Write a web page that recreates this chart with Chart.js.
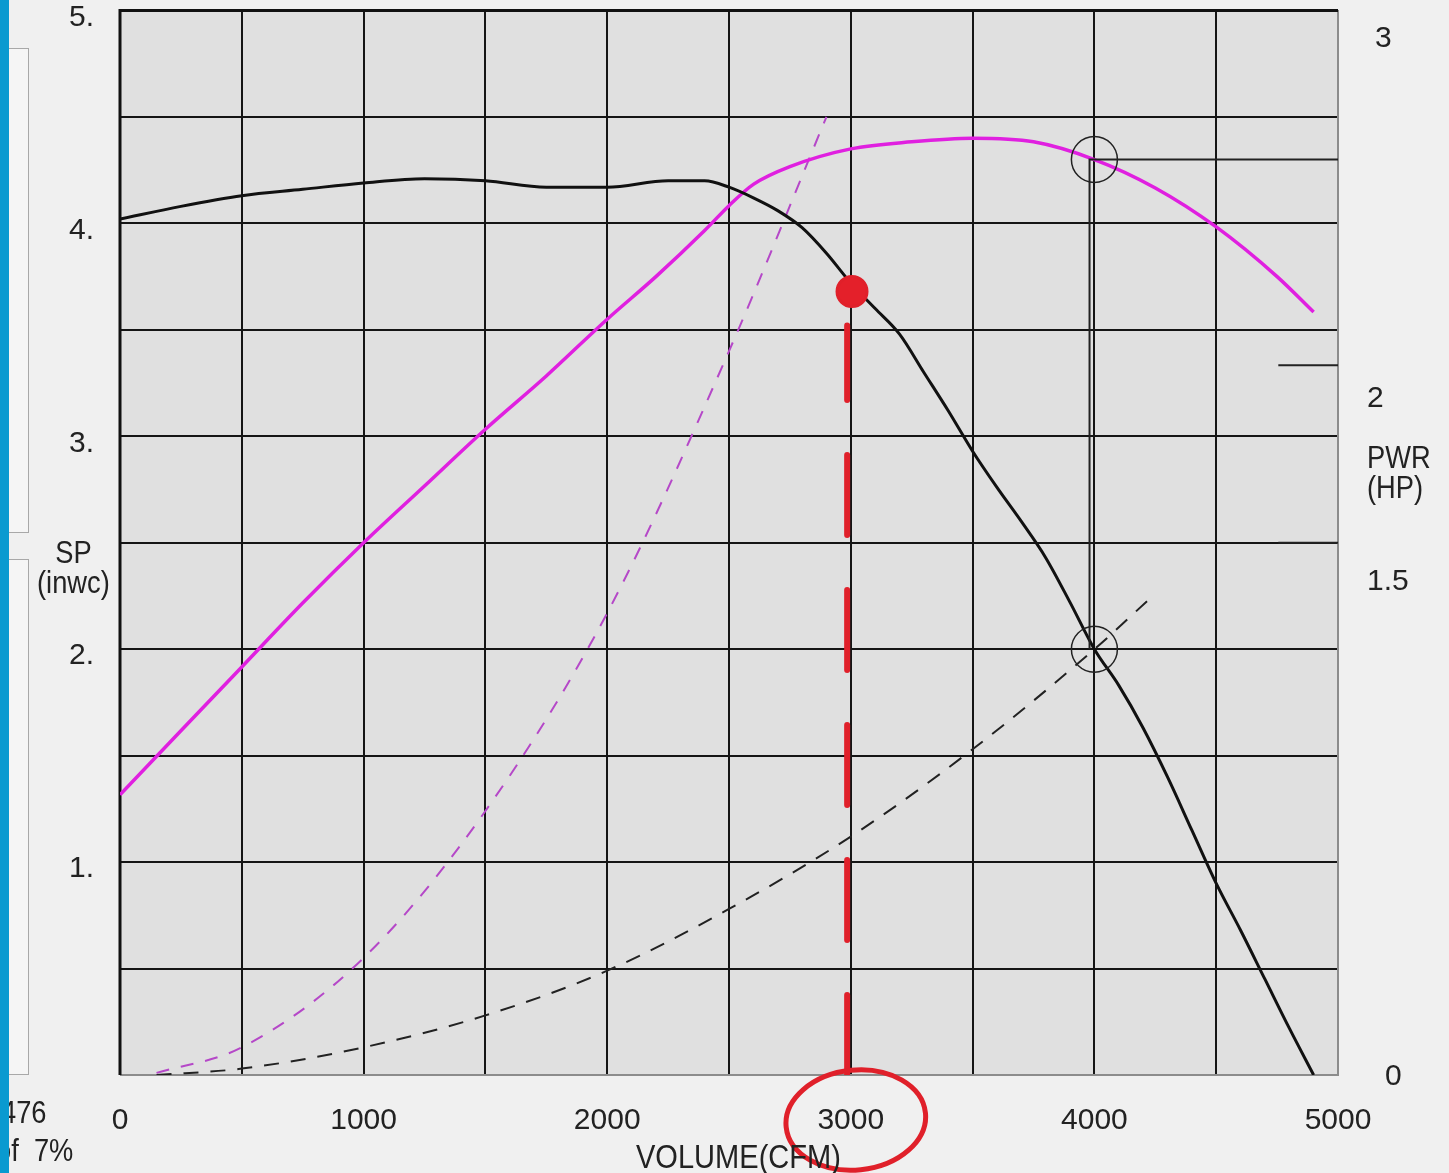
<!DOCTYPE html>
<html>
<head>
<meta charset="utf-8">
<script src="https://cdn.jsdelivr.net/npm/chart.js@4.4.1/dist/chart.umd.min.js"></script>
<style>
    body {
        margin: 0;
        width: 1449px;
        height: 1173px;
        overflow: hidden;
        position: relative;
        background: #f0f0f0;
        color: #222;
        font-family: 'Liberation Sans', sans-serif;
    }
    /* le canvas est remonté pour caler le haut de la zone de tracé à 10px */
    #chart { position: absolute; left: 0; top: -14px; }
    .lbl { position: absolute; font-size: 31px; line-height: 30px; white-space: nowrap; transform-origin: 0 0; transform: scaleX(0.88); }
    .box { position: absolute; left: 8px; width: 20px; background: #f5f5f5; border: 1px solid #a8a8a8; border-left: none; }
    #bluebar { position: absolute; left: 0; top: 0; width: 9px; height: 1173px; background: #0a9ad0; z-index: 5; }
</style>
</head>
<body>
<div class="box" style="top:48px;height:483px"></div>
<div class="box" style="top:559px;height:514px"></div>
<canvas id="chart" width="1449" height="1187"></canvas>
<div class="lbl" style="left:36px;top:538px;width:85px;text-align:center">SP<br>(inwc)</div>
<div class="lbl" style="left:1367px;top:443px">PWR<br>(HP)</div>
<div class="lbl" style="left:636px;top:1142px;font-size:33px">VOLUME(CFM)</div>
<div class="lbl" style="left:1px;top:1098px">476</div>
<div class="lbl" style="left:-4px;top:1136px">of&nbsp; 7%</div>
<div id="bluebar"></div>
<script>
// Courbe ventilateur : pression statique (inwc) selon le débit (CFM)
const spCfm = [0, 250, 500, 750, 1000, 1250, 1500, 1750, 2000, 2250, 2400, 2500, 2600, 2700, 2800, 2900, 3000, 3100, 3200, 3300, 3400, 3500, 3600, 3700, 3800, 3900, 4000, 4100, 4200, 4300, 4400, 4500, 4600, 4700, 4800, 4900];
const spValues = [4.02, 4.08, 4.13, 4.16, 4.19, 4.21, 4.20, 4.17, 4.17, 4.20, 4.20, 4.17, 4.12, 4.06, 3.98, 3.86, 3.72, 3.60, 3.48, 3.30, 3.12, 2.93, 2.76, 2.60, 2.43, 2.22, 2.00, 1.83, 1.63, 1.40, 1.15, 0.90, 0.68, 0.45, 0.22, 0.0];

// Puissance (HP)
const pwrCfm = [0, 250, 500, 750, 1000, 1250, 1500, 1750, 2000, 2200, 2400, 2500, 2600, 2750, 3000, 3250, 3500, 3750, 4000, 4250, 4500, 4750, 4900];
const pwrValues = [0.79, 0.97, 1.15, 1.33, 1.50, 1.66, 1.82, 1.97, 2.13, 2.25, 2.38, 2.45, 2.51, 2.56, 2.61, 2.63, 2.64, 2.63, 2.58, 2.50, 2.39, 2.25, 2.15];

// Courbes de réseau (pointillés)
const sysACfm = [150, 500, 1000, 1500, 2000, 2500, 2900];
const sysAValues = [0.01, 0.13, 0.55, 1.24, 2.17, 3.40, 4.50];
const sysBCfm = [150, 500, 1000, 1500, 2000, 2500, 3000, 3500, 4000, 4230];
const sysBValues = [0.0, 0.03, 0.13, 0.28, 0.49, 0.78, 1.12, 1.53, 2.00, 2.24];

// Point de fonctionnement et annotations
const opCfm = 4000;
const opSp = 2.0;
const opPwr = 2.58;
const refLineSp = 4.3;
const redCfm = 2985;
const redTopSp = 3.52;
const redMarkSp = 3.68;

// Axes
const spTicks = [1, 2, 3, 4, 5];
const pwrTicks = [0, 1.5, 2, 3];
const pwrInnerTicks = [1.5, 2];
const cfmTicks = [0, 1000, 2000, 3000, 4000, 5000];

const FONT = "'Liberation Sans', sans-serif";
Chart.defaults.font.family = FONT;

const toPoints = (xs, ys) => xs.map((x, i) => ({ x, y: ys[i] }));

// pas de marge automatique autour des étiquettes
const noPad = s => { s.paddingTop = 0; s.paddingBottom = 0; s.paddingLeft = 0; s.paddingRight = 0; };

// Fond gris + cadre de la zone de tracé
const framePlugin = {
    id: 'frame',
    beforeDraw(chart) {
        const { ctx, chartArea: a } = chart;
        ctx.save();
        ctx.fillStyle = '#e0e0e0';
        ctx.fillRect(a.left, a.top, a.right - a.left, a.bottom - a.top);
        ctx.restore();
    },
    beforeDatasetsDraw(chart) {
        const { ctx, chartArea: a } = chart;
        ctx.save();
        ctx.strokeStyle = '#8c8c8c';
        ctx.lineWidth = 2;
        ctx.beginPath();
        ctx.moveTo(a.right, a.top);
        ctx.lineTo(a.right, a.bottom);
        ctx.lineTo(a.left, a.bottom);
        ctx.stroke();
        ctx.strokeStyle = '#111';
        ctx.lineWidth = 3;
        ctx.beginPath();
        ctx.moveTo(a.left, a.bottom);
        ctx.lineTo(a.left, a.top);
        ctx.lineTo(a.right, a.top);
        ctx.stroke();
        ctx.restore();
    },
    afterDraw(chart) {
        const { ctx, chartArea: a, scales } = chart;
        ctx.save();
        // étiquettes de l'axe de puissance (décalées comme sur l'original)
        const shift = { 0: [47, 2], 1.5: [29, 39], 2: [29, 33], 3: [37, 28] };
        ctx.font = '30px ' + FONT;
        ctx.fillStyle = '#222';
        ctx.textAlign = 'left';
        ctx.textBaseline = 'middle';
        pwrTicks.forEach(v => {
            const [dx, dy] = shift[v];
            ctx.fillText(String(v), a.right + dx, scales.y2.getPixelForValue(v) + dy);
        });
        // cercle rouge à la main autour de 3000
        ctx.strokeStyle = '#e0202a';
        ctx.lineWidth = 5;
        ctx.beginPath();
        ctx.ellipse(scales.x.getPixelForValue(3000) + 5, a.bottom + 45, 70, 50, -0.1, 0, Math.PI * 2);
        ctx.stroke();
        ctx.restore();
    }
};

const ctx = document.getElementById('chart').getContext('2d');

const lineBase = { showLine: true, pointRadius: 0, pointHoverRadius: 0, fill: false };

const config = {
    type: 'scatter',
    data: {
        datasets: [
            {
                ...lineBase, label: 'red', yAxisID: 'y', order: 0,
                data: [{ x: redCfm, y: 0 }, { x: redCfm, y: redTopSp }],
                borderColor: '#e0202a', borderWidth: 6, borderDash: [80, 55], borderCapStyle: 'round',
            },
            {
                label: 'redMark', yAxisID: 'y', order: 0,
                data: [{ x: 3005, y: redMarkSp }],
                pointRadius: 15, backgroundColor: '#e4202a', borderColor: '#e0202a', borderWidth: 3,
            },
            {
                label: 'opCircles', yAxisID: 'y', order: 1,
                data: [{ x: opCfm, y: opSp }],
                pointRadius: 23, backgroundColor: 'rgba(0,0,0,0)', borderColor: '#222', borderWidth: 1.5,
            },
            {
                label: 'opCirclePwr', yAxisID: 'y2', order: 1,
                data: [{ x: opCfm, y: opPwr }],
                pointRadius: 23, backgroundColor: 'rgba(0,0,0,0)', borderColor: '#222', borderWidth: 1.5,
            },
            {
                ...lineBase, label: 'opLines', yAxisID: 'y', order: 2,
                data: [{ x: 3980, y: opSp }, { x: 3980, y: refLineSp }, { x: 5000, y: refLineSp }],
                borderColor: '#222', borderWidth: 2,
            },
            {
                ...lineBase, label: 'SP', yAxisID: 'y', order: 3,
                data: toPoints(spCfm, spValues),
                borderColor: '#111', borderWidth: 3, cubicInterpolationMode: 'monotone',
            },
            {
                ...lineBase, label: 'PWR', yAxisID: 'y2', order: 4,
                data: toPoints(pwrCfm, pwrValues),
                borderColor: '#e020e0', borderWidth: 3.5, cubicInterpolationMode: 'monotone',
            },
            {
                ...lineBase, label: 'sysB', yAxisID: 'y', order: 5,
                data: toPoints(sysBCfm, sysBValues),
                borderColor: '#222', borderWidth: 2, borderDash: [15, 12], cubicInterpolationMode: 'monotone',
            },
            {
                ...lineBase, label: 'sysA', yAxisID: 'y', order: 6,
                data: toPoints(sysACfm, sysAValues),
                borderColor: '#b548c8', borderWidth: 2, borderDash: [13, 12], cubicInterpolationMode: 'monotone',
            },
            // petits traits sur l'axe de droite
            ...pwrInnerTicks.map(v => ({
                ...lineBase, label: 'tick' + v, yAxisID: 'y2', order: 7,
                data: [{ x: 4755, y: v }, { x: 5000, y: v }],
                borderColor: '#222', borderWidth: 2,
            })),
        ],
    },
    options: {
        responsive: false,
        devicePixelRatio: 1,
        animation: false,
        layout: { padding: { top: 10, left: 0, right: 0, bottom: 0 } },
        plugins: { legend: { display: false }, tooltip: { enabled: false } },
        scales: {
            x: {
                type: 'linear', min: 0, max: 5000,
                afterFit: s => { noPad(s); s.height = 98; },
                grid: { color: '#151515', lineWidth: 2, drawTicks: false },
                border: { display: false },
                ticks: {
                    stepSize: 500, autoSkip: false, maxRotation: 0, padding: 28,
                    color: '#222', font: { size: 30 },
                    callback: v => (cfmTicks.includes(v) ? String(v) : ''),
                },
            },
            y: {
                type: 'linear', position: 'left', min: 0, max: 5,
                afterFit: s => { noPad(s); s.width = 120; },
                grid: { color: '#151515', lineWidth: 2, drawTicks: false },
                border: { display: false },
                ticks: {
                    stepSize: 0.5, autoSkip: false, padding: 26, labelOffset: 7,
                    color: '#222', font: { size: 30 },
                    callback: v => (spTicks.includes(v) ? v + '.' : ''),
                },
            },
            y2: {
                type: 'linear', position: 'right', min: 0, max: 3,
                afterFit: s => { noPad(s); s.width = 111; },
                grid: { display: false, drawTicks: false },
                border: { display: false },
                ticks: { display: false },
            },
        },
    },
    plugins: [framePlugin],
};

new Chart(ctx, config);
</script>
</body>
</html>
